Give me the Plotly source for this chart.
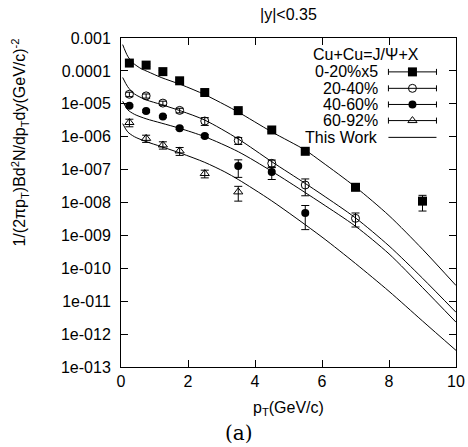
import plotly.graph_objects as go

# ---------------- data ----------------
pt_020 = [0.25, 0.75, 1.25, 1.75, 2.5, 3.5, 4.5, 5.5, 7.0, 9.0]
y_020 = [1.73e-4, 1.5e-4, 9.5e-5, 5.0e-5, 2.2e-5, 6.2e-6, 1.6e-6, 3.6e-7, 2.9e-8, 1.1e-8]
e_020 = [1.5e-5, 1.3e-5, 8e-6, 4e-6, 2e-6, 6e-7, 2e-7, 6e-8, 6e-9, 5.5e-9]

pt_2040 = [0.25, 0.75, 1.25, 1.75, 2.5, 3.5, 4.5, 5.5, 7.0]
y_2040 = [1.95e-5, 1.74e-5, 1.05e-5, 6.3e-6, 3.0e-6, 7.6e-7, 1.55e-7, 3.4e-8, 3.3e-9]
e_2040 = [3e-6, 2.5e-6, 1.5e-6, 1e-6, 8e-7, 1.8e-7, 4e-8, 1.8e-8, 1.5e-9]

pt_4060 = [0.25, 0.75, 1.25, 1.75, 2.5, 3.5, 4.5, 5.5]
y_4060 = [8.7e-6, 6.0e-6, 4.1e-6, 1.8e-6, 1.05e-6, 1.28e-7, 8.5e-8, 4.8e-9]
e_4060 = [6e-7, 5e-7, 3e-7, 1.5e-7, 1e-7, 7e-8, 3.5e-8, 3.3e-9]

pt_6092 = [0.25, 0.75, 1.25, 1.75, 2.5, 3.5]
y_6092 = [2.7e-6, 8.9e-7, 5.6e-7, 3.7e-7, 7.6e-8, 2.1e-8]
e_6092 = [7e-7, 2.2e-7, 1.4e-7, 1e-7, 2e-8, 1e-8]

# model curves ("This Work")
c1_pt = [0.05, 0.2, 0.36, 0.6, 0.8, 1.2, 1.8, 2.5, 3.1, 3.5, 4.5, 5.5, 6.0, 7.0, 8.0, 9.0, 10.0]
c1_y = [6.3e-4, 2.8e-4, 1.74e-4, 1.17e-4, 9.5e-5, 6.3e-5, 3.8e-5, 1.9e-5, 9.3e-6, 5.6e-6,
        1.4e-6, 3.9e-7, 1.7e-7, 2.95e-8, 4.0e-9, 3.8e-10, 3.0e-11]
c2_pt = [0.05, 0.2, 0.4, 0.75, 1.2, 1.8, 2.5, 3.5, 4.5, 5.5, 6.0, 7.0, 8.0, 9.0, 10.0]
c2_y = [6.3e-5, 3.3e-5, 2.0e-5, 1.32e-5, 9.5e-6, 6.0e-6, 3.2e-6, 8.5e-7, 1.74e-7, 3.8e-8,
        1.74e-8, 3.4e-9, 4.8e-10, 5.0e-11, 4.6e-12]
c3_pt = [0.05, 0.2, 0.4, 0.75, 1.2, 1.75, 2.5, 3.5, 4.5, 5.5, 6.0, 7.0, 8.0, 9.0, 10.0]
c3_y = [1.2e-5, 6.6e-6, 4.8e-6, 3.5e-6, 2.6e-6, 1.8e-6, 1.0e-6, 3.5e-7, 8.9e-8, 2.0e-8,
        9.3e-9, 1.9e-9, 2.75e-10, 2.6e-11, 2.3e-12]
c4_pt = [0.05, 0.2, 0.4, 0.75, 1.2, 1.8, 2.5, 3.1, 3.5, 4.5, 6.0, 7.0, 8.0, 9.0, 10.0]
c4_y = [2.5e-6, 1.4e-6, 1.0e-6, 7.1e-7, 5.0e-7, 3.1e-7, 1.66e-7, 8.5e-8, 5.0e-8, 1.12e-8,
        8.9e-10, 1.4e-10, 2.0e-11, 2.5e-12, 3.2e-13]

y_tickvals = [1e-3, 1e-4, 1e-5, 1e-6, 1e-7, 1e-8, 1e-9, 1e-10, 1e-11, 1e-12, 1e-13]
y_ticktext = ["0.001", "0.0001", "1e-005", "1e-006", "1e-007", "1e-008", "1e-009",
              "1e-010", "1e-011", "1e-012", "1e-013"]
x_tickvals = [0, 2, 4, 6, 8, 10]

legend_labels = ["0-20%x5", "20-40%", "40-60%", "60-92%", "This Work"]
legend_title = "Cu+Cu=J/\u03a8+X"

# ---------------- figure ----------------
FONT = "Liberation Sans, Arial, sans-serif"
fig = go.Figure()

for xs, ys in [(c1_pt, c1_y), (c2_pt, c2_y), (c3_pt, c3_y), (c4_pt, c4_y)]:
    fig.add_trace(go.Scatter(x=xs, y=ys, mode="lines",
                             line=dict(color="black", width=1, shape="spline", smoothing=0.8),
                             showlegend=False, hoverinfo="skip"))

series = [
    (pt_020, y_020, e_020, dict(symbol="square", size=9, color="black")),
    (pt_2040, y_2040, e_2040, dict(symbol="circle-open", size=8, color="black", line=dict(width=1, color="black"))),
    (pt_4060, y_4060, e_4060, dict(symbol="circle", size=8, color="black")),
    (pt_6092, y_6092, e_6092, dict(symbol="triangle-up-open", size=8, color="black", line=dict(width=1, color="black"))),
]
for xs, ys, es, mk in series:
    fig.add_trace(go.Scatter(x=xs, y=ys, mode="markers", marker=mk,
                             error_y=dict(type="data", array=es, visible=True,
                                          color="black", thickness=1, width=4),
                             showlegend=False))

# ---------------- manual gnuplot-style key (on an overlay axis 0..1) ----------------
rows = [0.897, 0.847, 0.798, 0.749, 0.698]
sample_x = 0.870
half = 0.0717
for i, (xs, ys, es, mk) in enumerate(series):
    fig.add_trace(go.Scatter(x=[sample_x], y=[rows[i]], xaxis="x2", yaxis="y2", mode="markers",
                             marker=mk,
                             error_x=dict(type="data", array=[half], visible=True,
                                          color="black", thickness=1, width=3),
                             showlegend=False, hoverinfo="skip"))
fig.add_trace(go.Scatter(x=[sample_x - half, sample_x + half], y=[rows[4], rows[4]],
                         xaxis="x2", yaxis="y2", mode="lines",
                         line=dict(color="black", width=1), showlegend=False, hoverinfo="skip"))

annotations = []
for i, lab in enumerate(legend_labels):
    annotations.append(dict(x=0.773, y=rows[i], xref="paper", yref="paper", text=lab,
                            showarrow=False, xanchor="right", yanchor="middle",
                            font=dict(family=FONT, size=16, color="black")))
annotations.append(dict(x=0.732, y=0.949, xref="paper", yref="paper", text=legend_title,
                        showarrow=False, xanchor="center", yanchor="middle",
                        font=dict(family=FONT, size=16, color="black")))
annotations.append(dict(x=0.4995, y=1.071, xref="paper", yref="paper", text="|y|<0.35",
                        showarrow=False, xanchor="center", yanchor="middle",
                        font=dict(family=FONT, size=16, color="black")))
annotations.append(dict(x=0.499, y=-0.1258, xref="paper", yref="paper",
                        text="p<sub>T</sub>(GeV/c)",
                        showarrow=False, xanchor="center", yanchor="middle",
                        font=dict(family=FONT, size=16, color="black")))
annotations.append(dict(x=0.3517, y=-0.2019, xref="paper", yref="paper", text="(a)",
                        showarrow=False, xanchor="center", yanchor="middle",
                        font=dict(family="DejaVu Serif, Liberation Serif, serif", size=20, color="black")))
annotations.append(dict(x=-0.3027, y=0.681, xref="paper", yref="paper",
                        text="1/(2\u03c0p<sub>T</sub>)Bd<sup>2</sup>N/dp<sub>T</sub>dy(GeV/c)<sup>-2</sup>",
                        textangle=-90, showarrow=False, xanchor="center", yanchor="middle",
                        font=dict(family=FONT, size=16, color="black")))

fig.update_layout(
    width=468, height=447,
    margin=dict(l=121, r=12, t=38, b=80, autoexpand=False),
    paper_bgcolor="white", plot_bgcolor="white",
    font=dict(family=FONT, size=16, color="black"),
    showlegend=False,
    annotations=annotations,
    xaxis=dict(range=[0, 10], tickvals=x_tickvals, ticks="inside", ticklen=7,
               tickcolor="black", showline=True, linecolor="black", linewidth=1,
               mirror="ticks", showgrid=False, zeroline=False, automargin=False,
               tickfont=dict(family=FONT, size=16, color="black")),
    yaxis=dict(type="log", range=[-13, -3], tickvals=y_tickvals, ticktext=y_ticktext,
               ticks="inside", ticklen=7, tickcolor="black", showline=True,
               linecolor="black", linewidth=1, mirror="ticks", showgrid=False,
               zeroline=False, ticklabelstandoff=6, automargin=False,
               tickfont=dict(family=FONT, size=16, color="black")),
    xaxis2=dict(range=[0, 1], overlaying="x", anchor="y2", visible=False),
    yaxis2=dict(range=[0, 1], overlaying="y", anchor="x2", visible=False),
)

fig.write_html("out.html")
